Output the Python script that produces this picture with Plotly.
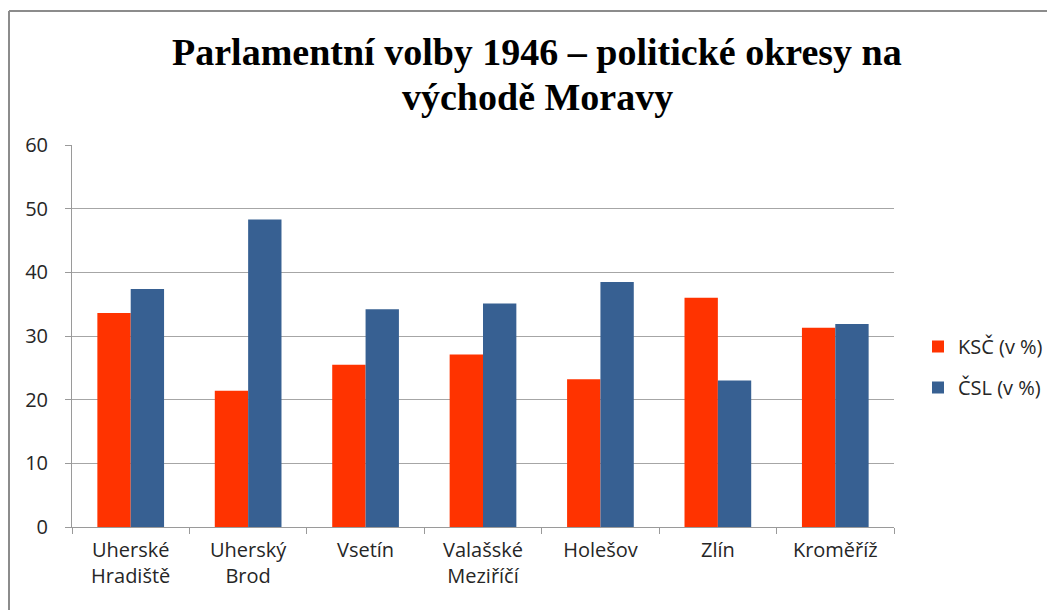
import plotly.graph_objects as go

categories = ["Uherské<br>Hradiště", "Uherský<br>Brod", "Vsetín", "Valašské<br>Meziříčí",
              "Holešov", "Zlín", "Kroměříž"]
ksc = [33.6, 21.4, 25.5, 27.1, 23.2, 36.0, 31.3]
csl = [37.4, 48.3, 34.2, 35.1, 38.5, 23.0, 31.9]
series_names = ["KSČ (v %)", "ČSL (v %)"]
colors = ["#FF3300", "#376092"]
y_ticks = [0, 10, 20, 30, 40, 50, 60]
title_lines = ["Parlamentní volby 1946 – politické okresy na", "východě Moravy"]

OFF = 8  # page body margin
W, H = 1055 - OFF, 610 - OFF
L, R, T, B = 72 - OFF, 161, 145 - OFF, 83
pw, ph = W - L - R, H - T - B

def px_x(px):  # reference screen pixel -> paper
    return (px - OFF - L) / pw

def px_y(py):
    return (H - B - (py - OFF)) / ph

fig = go.Figure()
for name, vals, col, grp in zip(series_names, [ksc, csl], colors, ["a", "b"]):
    fig.add_trace(go.Bar(x=categories, y=vals, name=name, marker_color=col,
                         marker_line_width=0, legendgroup=grp))

txt = dict(family="Open Sans", size=20, color="#262626")
tfont = dict(family="Liberation Serif", size=38, color="black", weight="bold")

fig.update_layout(
    width=W, height=H,
    margin=dict(l=L, r=R, t=T, b=B, autoexpand=False),
    paper_bgcolor="white", plot_bgcolor="white",
    bargap=0.432, bargroupgap=0,
    legend=dict(x=px_x(918), y=px_y(367), xanchor="left", yanchor="middle",
                font=txt, tracegroupgap=12, itemwidth=30, bgcolor="rgba(0,0,0,0)"),
    showlegend=True,
)
for line, cy in zip(title_lines, [52, 97]):
    fig.add_annotation(text=line, xref="paper", yref="paper", x=px_x(537), y=px_y(cy),
                       xanchor="center", yanchor="middle", showarrow=False, font=tfont)

fig.update_xaxes(showline=True, linecolor="#9a9a9a", linewidth=1,
                 ticks="outside", tickson="boundaries", ticklen=6, tickcolor="#9a9a9a",
                 tickfont=txt, showgrid=False, fixedrange=True, automargin=False,
                 ticklabelstandoff=5)
fig.update_yaxes(range=[0, 60], tickvals=y_ticks, showline=True, linecolor="#9a9a9a",
                 linewidth=1, ticks="outside", ticklen=6, tickcolor="#9a9a9a",
                 showgrid=True, gridcolor="#a6a6a6", gridwidth=1,
                 tickfont=dict(family="Open Sans", size=20, color="#262626"),
                 ticklabelstandoff=13, zeroline=False, automargin=False)

# chart frame (partially visible)
fig.add_shape(type="line", xref="paper", yref="paper",
              x0=px_x(9), y0=px_y(11), x1=px_x(1070), y1=px_y(11),
              line=dict(color="#8c8c8c", width=2))
fig.add_shape(type="line", xref="paper", yref="paper",
              x0=px_x(9), y0=px_y(11), x1=px_x(9), y1=px_y(630),
              line=dict(color="#8c8c8c", width=2))

fig.write_html("out.html")
